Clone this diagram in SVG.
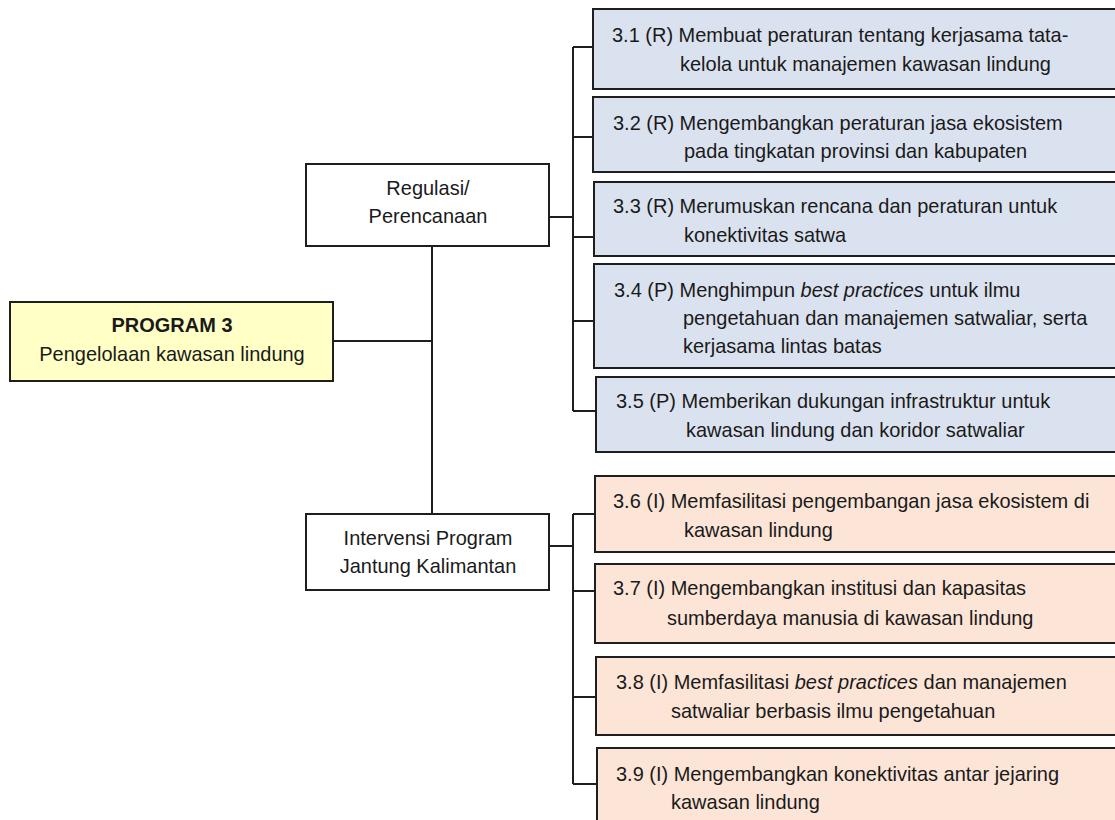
<svg xmlns="http://www.w3.org/2000/svg" width="1115" height="820" viewBox="0 0 1115 820">
<style>
.box{stroke:#1e1e1e;stroke-width:2}
.w{fill:#ffffff}
.y{fill:#ffffc6}
.b{fill:#dbe2ef}
.o{fill:#fce5d7}
.t{font-family:"Liberation Sans",Arial,sans-serif;font-size:20.5px;fill:#1a1a1a}
.c{text-anchor:middle}
.bold{font-weight:bold}
.conn{stroke:#1e1e1e;stroke-width:2;fill:none}
</style>
<rect width="1115" height="820" fill="#ffffff"/>
<g id="connectors">
<path class="conn" d="M333 341H432M432 246V514"/>
<path class="conn" d="M549 217H573M573 47V411M573 47H593M573 137H593M573 237H594M573 321H594M573 411H596"/>
<path class="conn" d="M549 546H573M573 514V784M573 514H595M573 591H595M573 697H596M573 784H597"/>
</g>
<g id="program3">
<rect class="box y" x="10" y="302" width="323" height="79"/>
<text class="t c bold" transform="translate(172,332) scale(0.975,1)">PROGRAM 3</text>
<text class="t c" transform="translate(172,361) scale(0.975,1)">Pengelolaan kawasan lindung</text>
</g>
<g id="regulasi">
<rect class="box w" x="306" y="164" width="243" height="82"/>
<text class="t c" transform="translate(428,195) scale(0.975,1)">Regulasi/</text>
<text class="t c" transform="translate(428,223) scale(0.975,1)">Perencanaan</text>
</g>
<g id="intervensi">
<rect class="box w" x="306" y="514" width="243" height="76"/>
<text class="t c" transform="translate(428,545) scale(0.975,1)">Intervensi Program</text>
<text class="t c" transform="translate(428,573) scale(0.975,1)">Jantung Kalimantan</text>
</g>
<g id="n31">
<rect class="box b" x="593" y="9" width="540" height="80"/>
<text class="t" transform="translate(612,42) scale(0.975,1)">3.1 (R) Membuat peraturan tentang kerjasama tata-</text>
<text class="t" transform="translate(680,71) scale(0.975,1)">kelola untuk manajemen kawasan lindung</text>
</g>
<g id="n32">
<rect class="box b" x="593" y="97" width="540" height="75"/>
<text class="t" transform="translate(613,130) scale(0.975,1)">3.2 (R) Mengembangkan peraturan jasa ekosistem</text>
<text class="t" transform="translate(684,158) scale(0.975,1)">pada tingkatan provinsi dan kabupaten</text>
</g>
<g id="n33">
<rect class="box b" x="594" y="182" width="540" height="74"/>
<text class="t" transform="translate(613,213) scale(0.975,1)">3.3 (R) Merumuskan rencana dan peraturan untuk</text>
<text class="t" transform="translate(684,242) scale(0.975,1)">konektivitas satwa</text>
</g>
<g id="n34">
<rect class="box b" x="594" y="264" width="540" height="104"/>
<text class="t" transform="translate(614,297) scale(0.975,1)">3.4 (P) Menghimpun <tspan font-style="italic">best practices</tspan> untuk ilmu</text>
<text class="t" transform="translate(683,325) scale(0.975,1)">pengetahuan dan manajemen satwaliar, serta</text>
<text class="t" transform="translate(683,353) scale(0.975,1)">kerjasama lintas batas</text>
</g>
<g id="n35">
<rect class="box b" x="596" y="377" width="540" height="75"/>
<text class="t" transform="translate(616,408) scale(0.975,1)">3.5 (P) Memberikan dukungan infrastruktur untuk</text>
<text class="t" transform="translate(686,437) scale(0.975,1)">kawasan lindung dan koridor satwaliar</text>
</g>
<g id="n36">
<rect class="box o" x="595" y="476" width="540" height="76"/>
<text class="t" transform="translate(613,508) scale(0.975,1)">3.6 (I) Memfasilitasi pengembangan jasa ekosistem di</text>
<text class="t" transform="translate(684,537) scale(0.975,1)">kawasan lindung</text>
</g>
<g id="n37">
<rect class="box o" x="595" y="564" width="540" height="79"/>
<text class="t" transform="translate(613,595) scale(0.975,1)">3.7 (I) Mengembangkan institusi dan kapasitas</text>
<text class="t" transform="translate(667,625) scale(0.975,1)">sumberdaya manusia di kawasan lindung</text>
</g>
<g id="n38">
<rect class="box o" x="596" y="657" width="540" height="78"/>
<text class="t" transform="translate(616,689) scale(0.975,1)">3.8 (I) Memfasilitasi <tspan font-style="italic">best practices</tspan> dan manajemen</text>
<text class="t" transform="translate(671,718) scale(0.975,1)">satwaliar berbasis ilmu pengetahuan</text>
</g>
<g id="n39">
<rect class="box o" x="597" y="748" width="540" height="90"/>
<text class="t" transform="translate(616,781) scale(0.975,1)">3.9 (I) Mengembangkan konektivitas antar jejaring</text>
<text class="t" transform="translate(671,809) scale(0.975,1)">kawasan lindung</text>
</g>
</svg>
